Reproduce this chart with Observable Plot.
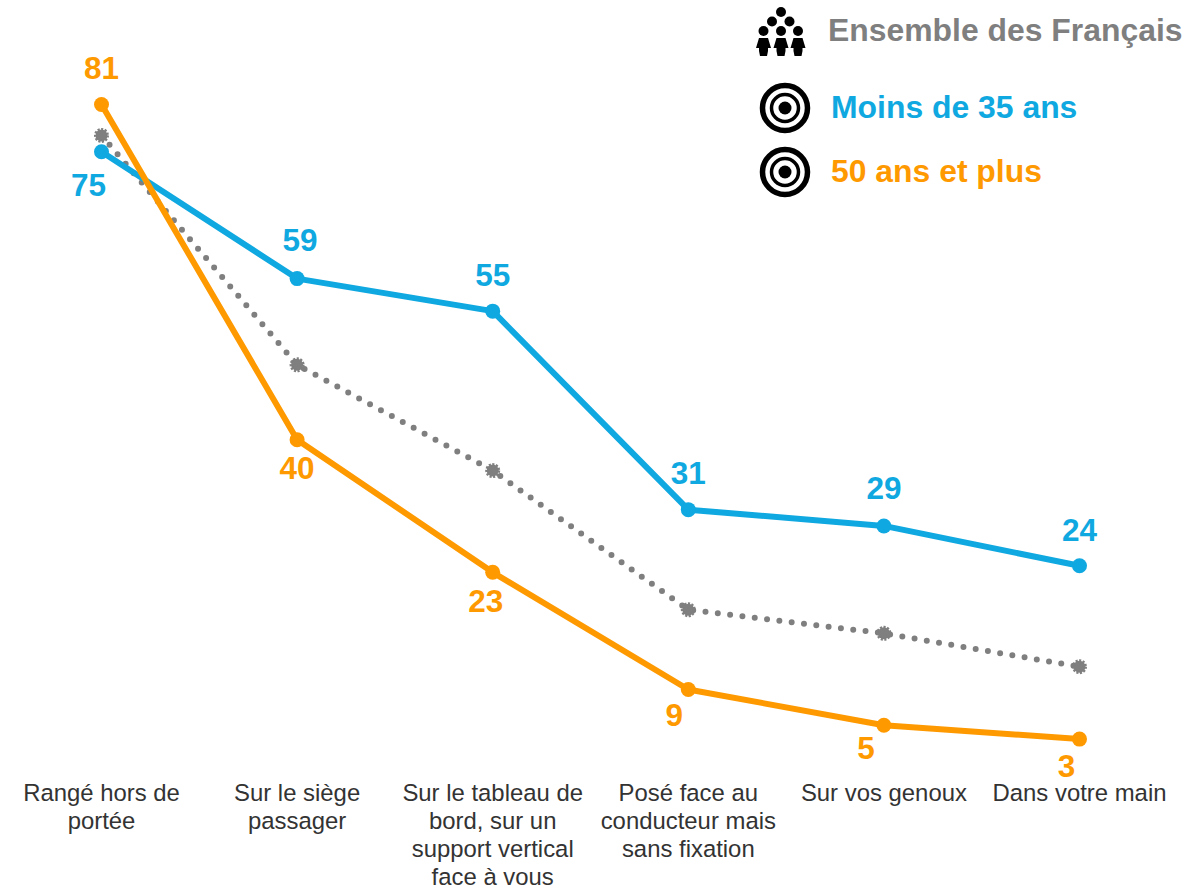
<!DOCTYPE html>
<html><head><meta charset="utf-8">
<script src="https://cdn.jsdelivr.net/npm/d3@7"></script>
<script src="https://cdn.jsdelivr.net/npm/@observablehq/plot@0.6"></script>
<style>
html,body{margin:0;padding:0;background:#fff}
#wrap{position:relative;width:1199px;height:889px;overflow:hidden;font-family:"Liberation Sans",Arial,sans-serif}
#wrap svg{display:block}
.lg{position:absolute;font-weight:700;font-size:31.9px;line-height:36px;white-space:nowrap}
.ic{position:absolute;left:0;top:0}
</style></head><body>
<div id="wrap"></div>
<script>
const categories = [
  "Rangé hors de\nportée",
  "Sur le siège\npassager",
  "Sur le tableau de\nbord, sur un\nsupport vertical\nface à vous",
  "Posé face au\nconducteur mais\nsans fixation",
  "Sur vos genoux",
  "Dans votre main"
];
const ensemble = [77.2, 49, 36, 18.9, 16, 11.9];
const moins35 = [75.2, 59.6, 55.6, 31.2, 29.2, 24.3];
const plus50 = [81, 39.8, 23.5, 9.1, 4.7, 3];
const moins35Labels = [75, 59, 55, 31, 29, 24];
const plus50Labels = [81, 40, 23, 9, 5, 3];
const legendNames = ["Ensemble des Français", "Moins de 35 ans", "50 ans et plus"];

const BLUE = "#10A8E0", ORANGE = "#FF9900", GREY = "#7F7F7F";
const rows = (vals, labels) => categories.map((c, i) => ({c, v: vals[i], label: labels ? labels[i] : null, i}));
const gRows = rows(ensemble), bRows = rows(moins35, moins35Labels), oRows = rows(plus50, plus50Labels);

// label offsets (px) from each point
const bOff = [[-13, 34], [3, -38], [0, -35], [0, -36], [0, -37], [0, -35]];
const oOff = [[0, -36], [0, 29], [-7, 30], [-14, 26], [-18, 24], [-13, 28]];

const labelMark = (data, off, fill) => Plot.text(data, {
  x: "c", y: "v", text: d => String(d.label), fill,
  fontSize: 31.5, fontWeight: 700,
  render(index, scales, values, dims, ctx, next) {
    const g = next(index, scales, values, dims, ctx);
    d3.select(g).selectAll("text").each(function(_, k) {
      const i = index[k];
      d3.select(this).attr("transform", `translate(${values.x[i] + off[i][0]},${values.y[i] + off[i][1]})`);
    });
    return g;
  }
});

const chart = Plot.plot({
  width: 1199, height: 889,
  marginTop: 0, marginLeft: 0, marginRight: 0, marginBottom: 109,
  style: {fontFamily: '"Liberation Sans", Arial, sans-serif', background: "transparent"},
  x: {type: "point", padding: 0, round: false, domain: categories, range: [101, 1079]},
  y: {domain: [0, 81], range: [763, 104], axis: null},
  marks: [
    Plot.axisX({tickSize: 0, tickPadding: 1, fontSize: 23.9, lineHeight: 1.17, label: null, color: "#333", fill: "#333", lineAnchor: "top", stroke: "none"}),
    Plot.line(gRows, {x: "c", y: "v", stroke: GREY, strokeWidth: 6, strokeDasharray: "0 12.4", strokeLinecap: "round"}),
    Plot.dot(gRows, {x: "c", y: "v", r: 6, fill: GREY, stroke: GREY, strokeWidth: 3, strokeDasharray: "2 1.4"}),
    Plot.line(bRows, {x: "c", y: "v", stroke: BLUE, strokeWidth: 6, strokeLinejoin: "round"}),
    Plot.line(oRows, {x: "c", y: "v", stroke: ORANGE, strokeWidth: 6, strokeLinejoin: "round"}),
    Plot.dot(bRows, {x: "c", y: "v", r: 7.5, fill: BLUE}),
    Plot.dot(oRows, {x: "c", y: "v", r: 7.5, fill: ORANGE}),
    labelMark(bRows, bOff, BLUE),
    labelMark(oRows, oOff, ORANGE)
  ]
});
const wrap = document.getElementById("wrap");
wrap.appendChild(chart);

// Legend overlay
const target = (cx, cy) => `<g transform="translate(${cx},${cy})">
  <circle r="22.5" fill="none" stroke="#000" stroke-width="5.5"/>
  <circle r="13.5" fill="none" stroke="#000" stroke-width="3.5"/>
  <circle r="6.5" fill="#000"/></g>`;
const person = (x, y) => `<g transform="translate(${x},${y})">
  <circle cy="-16" r="5"/>
  <path d="M-4.5,-9 H4.5 L7.5,1 H4.5 L4.5,4 L3.5,9 H-3.5 L-4.5,4 L-4.5,1 H-7.5 Z"/></g>`;
const heads = [[781,12],[772,21.5],[789.5,21.5]].map(([x,y]) => `<circle cx="${x}" cy="${y}" r="5"/>`).join("");
const ic = document.createElementNS("http://www.w3.org/2000/svg", "svg");
ic.setAttribute("class", "ic"); ic.setAttribute("width", 1199); ic.setAttribute("height", 889);
ic.innerHTML = target(785, 108) + target(785, 172) +
  `<g fill="#000">${heads}${person(763.5,47)}${person(781,47)}${person(798,47)}</g>`;
wrap.appendChild(ic);
[[legendNames[0], 828, 12, GREY], [legendNames[1], 831, 89, BLUE], [legendNames[2], 831, 153, ORANGE]].forEach(([t, l, top, col]) => {
  const d = document.createElement("div");
  d.className = "lg"; d.textContent = t;
  d.style.left = l + "px"; d.style.top = top + "px"; d.style.color = col;
  wrap.appendChild(d);
});
</script>
</body></html>
